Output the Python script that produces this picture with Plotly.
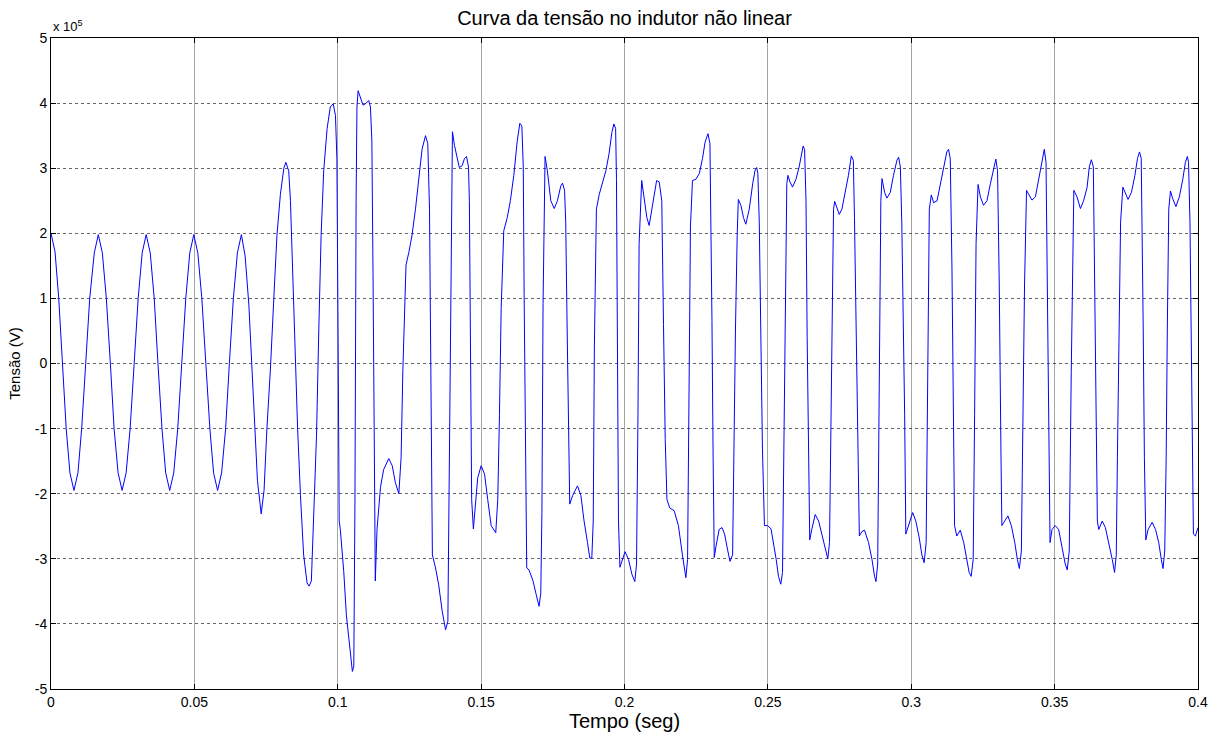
import plotly.graph_objects as go

# Time (s) and voltage (in units of 1e5 V)
tempo = [
    0.0000, 0.0014, 0.0027, 0.0040, 0.0053, 0.0066, 0.0080, 0.0094, 0.0107, 0.0121,
    0.0135, 0.0151, 0.0165, 0.0179, 0.0193, 0.0207, 0.0220, 0.0234, 0.0248, 0.0262,
    0.0276, 0.0290, 0.0304, 0.0318, 0.0332, 0.0346, 0.0360, 0.0373, 0.0387, 0.0400,
    0.0414, 0.0428, 0.0442, 0.0456, 0.0470, 0.0484, 0.0498, 0.0512, 0.0526, 0.0540,
    0.0554, 0.0567, 0.0581, 0.0595, 0.0609, 0.0622, 0.0636, 0.0650, 0.0664, 0.0677,
    0.0690, 0.0700, 0.0710, 0.0720, 0.0733, 0.0743, 0.0753, 0.0765, 0.0777, 0.0788,
    0.0800, 0.0812, 0.0819, 0.0829, 0.0835, 0.0844, 0.0852, 0.0860, 0.0870, 0.0881,
    0.0893, 0.0900, 0.0908, 0.0916, 0.0926, 0.0934, 0.0942, 0.0951, 0.0963, 0.0974,
    0.0984, 0.0992, 0.0997, 0.1001, 0.1005, 0.1009, 0.1021, 0.1030, 0.1038, 0.1047,
    0.1051, 0.1056, 0.1060, 0.1064, 0.1067, 0.1071, 0.1079, 0.1088, 0.1097, 0.1108,
    0.1114, 0.1119, 0.1123, 0.1127, 0.1131, 0.1137, 0.1149, 0.1160, 0.1178, 0.1190,
    0.1201, 0.1213, 0.1221, 0.1227, 0.1233, 0.1238, 0.1248, 0.1259, 0.1271, 0.1283,
    0.1294, 0.1306, 0.1314, 0.1320, 0.1324, 0.1330, 0.1341, 0.1352, 0.1364, 0.1376,
    0.1384, 0.1388, 0.1392, 0.1397, 0.1400, 0.1407, 0.1416, 0.1424, 0.1434, 0.1442,
    0.1449, 0.1456, 0.1459, 0.1463, 0.1467, 0.1473, 0.1480, 0.1488, 0.1500, 0.1512,
    0.1523, 0.1535, 0.1551, 0.1558, 0.1564, 0.1570, 0.1579, 0.1591, 0.1602, 0.1614,
    0.1626, 0.1635, 0.1642, 0.1647, 0.1650, 0.1655, 0.1659, 0.1667, 0.1681, 0.1691,
    0.1702, 0.1708, 0.1712, 0.1716, 0.1721, 0.1723, 0.1731, 0.1743, 0.1755, 0.1766,
    0.1778, 0.1784, 0.1791, 0.1795, 0.1800, 0.1805, 0.1809, 0.1819, 0.1836, 0.1848,
    0.1859, 0.1871, 0.1879, 0.1886, 0.1891, 0.1895, 0.1902, 0.1912, 0.1923, 0.1935,
    0.1946, 0.1956, 0.1963, 0.1969, 0.1972, 0.1976, 0.1979, 0.1984, 0.1993, 0.2002,
    0.2014, 0.2026, 0.2036, 0.2042, 0.2047, 0.2051, 0.2060, 0.2069, 0.2078, 0.2086,
    0.2095, 0.2105, 0.2112, 0.2121, 0.2130, 0.2136, 0.2142, 0.2148, 0.2158, 0.2173,
    0.2188, 0.2202, 0.2214, 0.2220, 0.2224, 0.2230, 0.2237, 0.2249, 0.2261, 0.2272,
    0.2281, 0.2291, 0.2298, 0.2301, 0.2305, 0.2309, 0.2313, 0.2319, 0.2330, 0.2340,
    0.2349, 0.2359, 0.2368, 0.2377, 0.2381, 0.2387, 0.2393, 0.2397, 0.2406, 0.2415,
    0.2423, 0.2435, 0.2447, 0.2455, 0.2461, 0.2465, 0.2470, 0.2476, 0.2481, 0.2488,
    0.2499, 0.2511, 0.2520, 0.2529, 0.2537, 0.2545, 0.2551, 0.2556, 0.2561, 0.2566,
    0.2570, 0.2577, 0.2586, 0.2598, 0.2609, 0.2619, 0.2623, 0.2628, 0.2633, 0.2637,
    0.2642, 0.2646, 0.2653, 0.2665, 0.2677, 0.2688, 0.2700, 0.2709, 0.2715, 0.2720,
    0.2724, 0.2729, 0.2733, 0.2741, 0.2749, 0.2758, 0.2770, 0.2781, 0.2791, 0.2798,
    0.2802, 0.2808, 0.2814, 0.2819, 0.2828, 0.2837, 0.2851, 0.2863, 0.2872, 0.2877,
    0.2883, 0.2886, 0.2890, 0.2894, 0.2898, 0.2907, 0.2915, 0.2927, 0.2938, 0.2950,
    0.2956, 0.2962, 0.2967, 0.2973, 0.2977, 0.2981, 0.2991, 0.3005, 0.3016, 0.3028,
    0.3037, 0.3045, 0.3052, 0.3057, 0.3063, 0.3070, 0.3078, 0.3090, 0.3101, 0.3113,
    0.3124, 0.3130, 0.3136, 0.3142, 0.3148, 0.3151, 0.3159, 0.3171, 0.3183, 0.3194,
    0.3202, 0.3209, 0.3216, 0.3221, 0.3226, 0.3233, 0.3241, 0.3252, 0.3264, 0.3276,
    0.3287, 0.3295, 0.3301, 0.3307, 0.3313, 0.3316, 0.3326, 0.3337, 0.3349, 0.3361,
    0.3370, 0.3377, 0.3384, 0.3390, 0.3395, 0.3402, 0.3409, 0.3421, 0.3433, 0.3444,
    0.3456, 0.3464, 0.3470, 0.3474, 0.3479, 0.3484, 0.3491, 0.3502, 0.3514, 0.3526,
    0.3537, 0.3544, 0.3551, 0.3558, 0.3563, 0.3567, 0.3578, 0.3590, 0.3601, 0.3613,
    0.3621, 0.3628, 0.3635, 0.3639, 0.3644, 0.3649, 0.3654, 0.3666, 0.3677, 0.3689,
    0.3701, 0.3709, 0.3715, 0.3719, 0.3724, 0.3730, 0.3738, 0.3745, 0.3756, 0.3768,
    0.3780, 0.3789, 0.3796, 0.3802, 0.3805, 0.3809, 0.3813, 0.3818, 0.3826, 0.3840,
    0.3852, 0.3863, 0.3872, 0.3878, 0.3884, 0.3889, 0.3893, 0.3898, 0.3904, 0.3912,
    0.3923, 0.3935, 0.3947, 0.3956, 0.3963, 0.3967, 0.3972, 0.3976, 0.3979, 0.3984,
    0.3991, 0.4000,
]

tensao_1e5 = [
    2.00, 1.72, 1.00, 0.00, -1.00, -1.68, -1.95, -1.68, -1.00, 0.00,
    1.00, 1.70, 1.98, 1.70, 1.00, 0.00, -1.00, -1.68, -1.95, -1.68,
    -1.00, 0.00, 1.00, 1.70, 1.98, 1.70, 1.00, 0.00, -1.00, -1.68,
    -1.95, -1.68, -1.00, 0.00, 1.00, 1.70, 1.98, 1.70, 1.00, 0.00,
    -1.00, -1.68, -1.95, -1.68, -1.00, 0.00, 1.00, 1.70, 1.98, 1.65,
    0.90, 0.00, -1.00, -1.80, -2.31, -1.95, -1.00, -0.10, 1.00, 1.97,
    2.60, 3.00, 3.09, 2.96, 2.50, 1.19, -0.12, -1.00, -2.03, -2.94,
    -3.37, -3.42, -3.34, -2.42, -1.10, 0.53, 1.97, 2.96, 3.61, 3.94,
    3.99, 3.81, 3.16, 0.53, -2.42, -2.55, -3.20, -3.86, -4.19, -4.58,
    -4.73, -4.65, -2.09, 2.50, 3.94, 4.19, 4.07, 3.97, 3.99, 4.04,
    3.94, 3.42, 1.38, -2.09, -3.34, -2.55, -1.90, -1.63, -1.46, -1.57,
    -1.83, -2.00, -1.44, -0.12, 0.99, 1.51, 1.71, 1.97, 2.37, 2.89,
    3.29, 3.50, 3.38, 2.37, 0.00, -2.94, -3.14, -3.40, -3.80, -4.09,
    -3.96, -2.09, 0.79, 3.22, 3.56, 3.35, 3.15, 3.01, 3.04, 3.15,
    3.18, 3.02, 2.50, -0.12, -2.09, -2.54, -2.16, -1.76, -1.57, -1.70,
    -2.09, -2.49, -2.60, -2.09, -0.78, 0.86, 2.04, 2.24, 2.50, 2.89,
    3.42, 3.69, 3.65, 3.02, 1.06, -1.90, -3.14, -3.17, -3.34, -3.53,
    -3.73, -3.53, -2.29, 0.92, 2.96, 3.18, 2.96, 2.50, 2.38, 2.50,
    2.73, 2.77, 2.66, 2.17, 0.53, -0.85, -2.16, -2.03, -1.88, -2.03,
    -2.42, -2.75, -2.99, -2.99, -2.42, 0.27, 2.37, 2.60, 2.79, 2.96,
    3.22, 3.55, 3.68, 3.61, 2.83, 0.27, -2.42, -3.13, -3.01, -2.89,
    -3.01, -3.24, -3.35, -3.08, -0.78, 1.84, 2.81, 2.50, 2.24, 2.12,
    2.37, 2.66, 2.81, 2.79, 2.50, 0.60, -1.17, -2.09, -2.22, -2.26,
    -2.49, -2.94, -3.29, -3.01, -0.45, 2.10, 2.81, 2.83, 2.92, 3.15,
    3.40, 3.53, 3.38, 2.50, 0.66, -1.44, -2.98, -2.81, -2.55, -2.52,
    -2.62, -2.85, -3.04, -2.94, -1.44, 0.53, 1.97, 2.52, 2.43, 2.24,
    2.14, 2.37, 2.76, 2.96, 3.01, 2.92, 2.17, 0.53, -1.30, -2.49,
    -2.49, -2.54, -2.75, -3.01, -3.27, -3.39, -3.21, -1.44, 0.86, 2.76,
    2.89, 2.79, 2.71, 2.83, 3.02, 3.25, 3.34, 3.29, 2.50, 0.40,
    -1.44, -2.71, -2.55, -2.32, -2.42, -2.62, -2.81, -3.00, -2.75, -0.78,
    1.19, 2.37, 2.49, 2.37, 2.29, 2.37, 2.63, 2.89, 3.19, 3.12,
    2.24, 0.40, -1.44, -2.65, -2.58, -2.56, -2.75, -3.01, -3.27, -3.35,
    -3.08, -1.44, 0.53, 2.50, 2.84, 2.63, 2.54, 2.63, 2.89, 3.12,
    3.17, 3.02, 2.17, 0.53, -0.78, -2.62, -2.49, -2.29, -2.42, -2.68,
    -2.94, -3.06, -2.75, -0.78, 2.37, 2.59, 2.47, 2.50, 2.76, 3.02,
    3.25, 3.29, 3.15, 1.45, -1.17, -2.49, -2.65, -2.56, -2.75, -3.01,
    -3.21, -3.27, -3.01, -0.78, 1.84, 2.75, 2.56, 2.43, 2.50, 2.76,
    2.99, 3.14, 2.96, 1.19, -1.44, -2.49, -2.42, -2.34, -2.49, -2.75,
    -3.01, -3.15, -2.88, -0.78, 1.19, 2.66, 2.60, 2.51, 2.56, 2.83,
    3.15, 3.29, 3.09, 1.19, -0.78, -2.75, -2.55, -2.49, -2.55, -2.81,
    -3.08, -3.17, -2.88, -0.12, 1.84, 2.66, 2.56, 2.38, 2.50, 2.70,
    3.02, 3.13, 3.02, 1.51, -0.78, -2.42, -2.55, -2.42, -2.52, -2.75,
    -3.01, -3.21, -2.94, -1.44, 0.53, 2.17, 2.71, 2.63, 2.52, 2.63,
    2.89, 3.15, 3.25, 3.15, 2.17, 0.53, -1.44, -2.71, -2.55, -2.44,
    -2.55, -2.75, -3.01, -3.15, -2.88, -1.44, 0.53, 2.37, 2.65, 2.53,
    2.41, 2.56, 2.83, 3.09, 3.18, 3.09, 2.17, 0.53, -1.44, -2.62,
    -2.65, -2.52,
]

x_tickvals = [0, 0.05, 0.1, 0.15, 0.2, 0.25, 0.3, 0.35, 0.4]
x_ticktext = ["0", "0.05", "0.1", "0.15", "0.2", "0.25", "0.3", "0.35", "0.4"]
y_tickvals = [-5, -4, -3, -2, -1, 0, 1, 2, 3, 4, 5]
y_ticktext = ["-5", "-4", "-3", "-2", "-1", "0", "1", "2", "3", "4", "5"]

FONT = "Liberation Sans, Arial, Helvetica, sans-serif"

fig = go.Figure()
fig.add_trace(go.Scatter(
    x=tempo, y=tensao_1e5, mode="lines",
    line=dict(color="#0000ff", width=1),
    showlegend=False, hoverinfo="x+y",
))

axis_common = dict(
    showline=True, linecolor="black", linewidth=1, mirror="ticks",
    ticks="inside", ticklen=5, tickcolor="black", tickwidth=1,
    zeroline=False, showgrid=True,
    tickfont=dict(family=FONT, size=14, color="black"),
)

fig.update_layout(
    width=1225, height=746,
    paper_bgcolor="white", plot_bgcolor="white",
    margin=dict(l=51, r=27, t=38, b=57),
    font=dict(family=FONT, color="black"),
    title=dict(
        text="Curva da tensão no indutor não linear",
        x=0.5, xanchor="center", xref="paper",
        y=1 - 18 / 746, yanchor="middle", yref="container",
        font=dict(family=FONT, size=20, color="black"),
    ),
    xaxis=dict(
        range=[0, 0.4], tickvals=x_tickvals, ticktext=x_ticktext,
        gridcolor="rgba(0,0,0,0.35)", griddash="solid", gridwidth=1,
        title=dict(text="Tempo (seg)", font=dict(family=FONT, size=20, color="black"), standoff=4),
        **axis_common,
    ),
    yaxis=dict(
        range=[-5, 5], tickvals=y_tickvals, ticktext=y_ticktext,
        gridcolor="rgba(0,0,0,0.6)", griddash="dot", gridwidth=1,
        title=dict(text="Tensão (V)", font=dict(family=FONT, size=15, color="black"), standoff=10),
        **axis_common,
    ),
    annotations=[dict(
        text="x 10<sup>5</sup>", xref="paper", yref="paper",
        x=0, y=1, xanchor="left", yanchor="bottom", showarrow=False,
        font=dict(family=FONT, size=13, color="black"), yshift=2,
    )],
)

fig.write_html("out.html")
